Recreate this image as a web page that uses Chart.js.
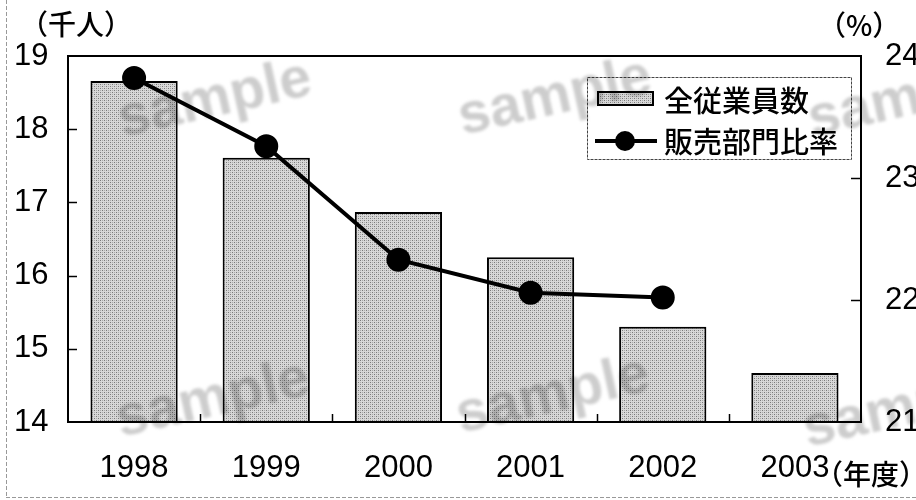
<!DOCTYPE html>
<html>
<head>
<meta charset="utf-8">
<script src="https://cdn.jsdelivr.net/npm/chart.js@4.4.1/dist/chart.umd.min.js"></script>
<style>
body{margin:0;background:#fff}
canvas{display:block}
</style>
</head>
<body>
<canvas id="chart" width="916" height="500"></canvas>
<script>

let years=["1998","1999","2000","2001","2002","2003"]
let staff=[18.66,17.61,16.87,16.25,15.30,14.67]
let salesRatio=[23.82,23.26,22.33,22.06,22.02,null]

let staffTicks=[14,15,16,17,18,19]
let ratioTicks=[21,22,23,24]

let staffLabel="全従業員数"
let ratioLabel="販売部門比率"
let leftUnit="（千人）"
let rightUnit="（%）"
let xUnit="（年度）"

let numFont="'Liberation Sans Narrow', 'Liberation Sans', sans-serif"
let jpFont="'Noto Sans CJK JP', sans-serif"


function dotPattern(){

let c=document.createElement("canvas")
c.width=4
c.height=4
let g=c.getContext("2d")
g.fillStyle="#d8d8d8"
g.fillRect(0,0,4,4)
g.fillStyle="#7a7a7a"
g.fillRect(0,0,1,1)
g.fillRect(2,2,1,1)
g.fillStyle="#aaaaaa"
g.fillRect(2,0,1,1)
g.fillRect(0,2,1,1)

return document.getElementById("chart").getContext("2d").createPattern(c,"repeat")

}

let barFill=dotPattern()


function line(ctx,x1,y1,x2,y2){
ctx.beginPath()
ctx.moveTo(x1,y1)
ctx.lineTo(x2,y2)
ctx.stroke()
}


let decorations={

id:"decorations",

afterDraw(chart){

let ctx=chart.ctx
let a=chart.chartArea
let x=chart.scales.x
let y=chart.scales.y
let y1=chart.scales.y1

ctx.save()

// plot frame
ctx.strokeStyle="#000"
ctx.lineWidth=2
ctx.strokeRect(a.left,a.top,a.right-a.left,a.bottom-a.top)

// inner tick marks
ctx.lineWidth=1.5
staffTicks.slice(1,-1).forEach(v=>{
let p=Math.round(y.getPixelForValue(v))+0.5
line(ctx,a.left,p,a.left+9,p)
})
ratioTicks.slice(1,-1).forEach(v=>{
let p=Math.round(y1.getPixelForValue(v))+0.5
line(ctx,a.right-10,p,a.right,p)
})
for(let i=0;i<years.length-1;i++){
let p=Math.round((x.getPixelForValue(i)+x.getPixelForValue(i+1))/2)+0.5
line(ctx,p,a.bottom,p,a.bottom-8)
}

// unit labels
ctx.fillStyle="#000"
ctx.font="500 28px "+jpFont
ctx.textBaseline="middle"
ctx.textAlign="left"
ctx.fillText(leftUnit,20,24)
ctx.fillText(rightUnit,818,25)
ctx.fillText(xUnit,815,474)

// legend
ctx.fillStyle="#fff"
ctx.fillRect(587,77,264,82)
ctx.strokeStyle="#444"
ctx.lineWidth=1
ctx.setLineDash([3,1])
ctx.strokeRect(587.5,77.5,264,82)
ctx.setLineDash([])

ctx.fillStyle=barFill
ctx.fillRect(598,92,55,13)
ctx.strokeStyle="#000"
ctx.lineWidth=2
ctx.strokeRect(598,92,55,13)

ctx.lineWidth=4
line(ctx,595,141,657,141)
ctx.fillStyle="#000"
ctx.beginPath()
ctx.arc(625,141,10,0,Math.PI*2)
ctx.fill()

ctx.font="500 29px "+jpFont
ctx.textAlign="left"
ctx.fillText(chart.data.datasets[0].label,664,101)
ctx.fillText(chart.data.datasets[1].label,664,142)

// watermark
ctx.globalCompositeOperation="multiply"
ctx.filter="blur(1.5px)"
ctx.fillStyle="#cdcdcd"
ctx.font="bold 57px 'Liberation Sans', sans-serif"
ctx.textAlign="center"
let marks=[[215,100],[555,98],[905,100],[213,400],[553,396],[900,410]]
marks.forEach(m=>{
ctx.save()
ctx.translate(m[0],m[1])
ctx.rotate(-0.22)
ctx.fillText("sample",0,0)
ctx.restore()
})
ctx.filter="none"
ctx.globalCompositeOperation="source-over"

// scan frame
ctx.strokeStyle="#999"
ctx.lineWidth=1
ctx.setLineDash([4,2])
line(ctx,6.5,0,6.5,497)
line(ctx,6,497.5,916,497.5)
ctx.setLineDash([])

ctx.restore()

}

}


let chart=new Chart(document.getElementById("chart"),{

type:"bar",

data:{
labels:years,
datasets:[
{
label:staffLabel,
data:staff,
yAxisID:"y",
backgroundColor:barFill,
borderColor:"#000",
borderWidth:2,
borderSkipped:false,
categoryPercentage:1,
barPercentage:0.66,
order:2
},
{
type:"line",
label:ratioLabel,
data:salesRatio,
yAxisID:"y1",
borderColor:"#000",
borderWidth:4,
pointRadius:10,
pointBackgroundColor:"#000",
pointBorderColor:"#000",
tension:0,
order:1
}
]
},

options:{
responsive:false,
animation:false,
layout:{padding:{left:14,top:56,right:0,bottom:0}},
plugins:{
legend:{display:false},
tooltip:{enabled:false}
},
scales:{
x:{
grid:{display:false,drawTicks:false},
border:{display:false},
ticks:{color:"#000",padding:28,font:{family:numFont,size:31}},
afterFit:s=>{s.height=78}
},
y:{
position:"left",
min:14,
max:19,
afterBuildTicks:s=>{s.ticks=staffTicks.map(v=>({value:v}))},
grid:{display:false,drawTicks:false},
border:{display:false},
ticks:{color:"#000",crossAlign:"far",padding:10,font:{family:numFont,size:31}},
afterFit:s=>{s.width=54}
},
y1:{
position:"right",
min:21,
max:24,
afterBuildTicks:s=>{s.ticks=ratioTicks.map(v=>({value:v}))},
grid:{display:false,drawTicks:false},
border:{display:false},
ticks:{color:"#000",padding:24,font:{family:numFont,size:31}},
afterFit:s=>{s.width=55}
}
}
},

plugins:[decorations]

})

</script>
</body>
</html>
